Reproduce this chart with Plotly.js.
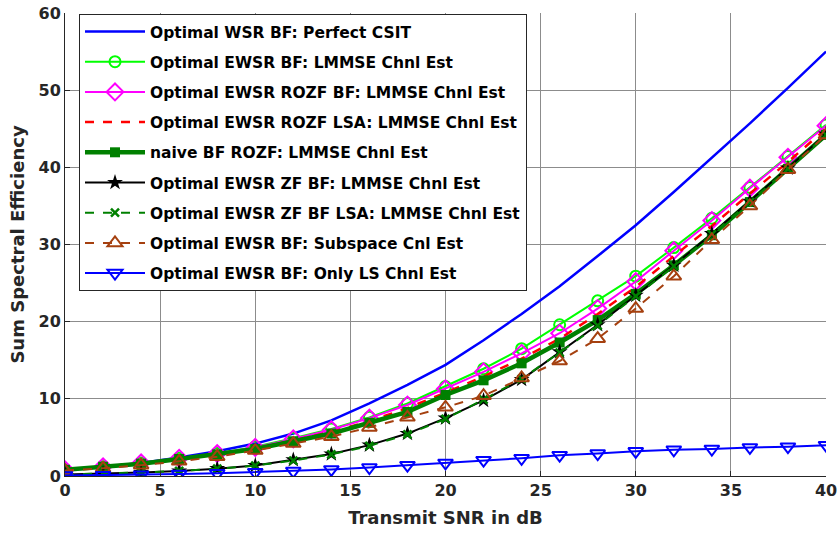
<!DOCTYPE html>
<html>
<head>
<meta charset="utf-8">
<script src="https://cdn.plot.ly/plotly-3.0.1.min.js"></script>
<style>html,body{margin:0;padding:0;background:#fff;}#chart{width:838px;height:534px;}</style>
</head>
<body>
<div id="chart"></div>
<script>
const snr = [0,2,4,6,8,10,12,14,16,18,20,22,24,26,28,30,32,34,36,38,40];
const perfectCSIT = [0.8,1.2,1.7,2.4,3.2,4.2,5.5,7.2,9.4,11.8,14.4,17.6,21.0,24.6,28.5,32.5,36.8,41.2,45.7,50.3,55.0];
const ewsrLmmse = [0.8,1.2,1.7,2.3,2.9,3.8,4.9,6.1,7.6,9.4,11.6,13.9,16.5,19.6,22.7,25.9,29.6,33.4,37.4,41.4,45.5];
const ewsrRozf = [0.8,1.2,1.7,2.3,2.9,3.7,4.8,6.0,7.5,9.2,11.3,13.5,15.9,18.5,21.7,25.2,29.2,33.1,37.3,41.3,45.4];
const ewsrRozfLsa = [0.8,1.2,1.7,2.2,2.8,3.6,4.6,5.7,7.1,8.8,10.8,12.9,15.2,17.8,21.0,24.5,28.5,32.4,36.6,40.7,45.0];
const naiveRozf = [0.8,1.2,1.6,2.2,2.8,3.5,4.5,5.5,6.9,8.3,10.5,12.4,14.6,17.3,20.2,23.6,27.3,31.2,35.5,39.8,44.2];
const ewsrZf = [0.2,0.3,0.45,0.65,0.95,1.35,2.1,2.85,4.0,5.5,7.5,9.8,12.5,16.1,19.6,23.4,27.3,31.4,35.6,39.9,44.3];
const ewsrZfLsa = [0.2,0.3,0.45,0.65,0.95,1.35,2.0,2.8,3.9,5.4,7.4,9.9,12.6,16.0,19.5,23.3,27.2,31.3,35.5,39.8,44.2];
const subspace = [0.7,1.0,1.4,1.9,2.5,3.3,4.2,5.1,6.3,7.6,8.9,10.4,12.7,14.9,17.8,21.7,25.9,30.6,35.0,39.7,44.2];
const onlyLS = [0.05,0.1,0.15,0.25,0.35,0.5,0.65,0.85,1.1,1.4,1.7,2.05,2.3,2.7,2.9,3.2,3.4,3.5,3.7,3.8,4.0];
const names = [
  'Optimal WSR BF: Perfect CSIT',
  'Optimal EWSR BF: LMMSE Chnl Est',
  'Optimal EWSR ROZF BF: LMMSE Chnl Est',
  'Optimal EWSR ROZF LSA: LMMSE Chnl Est',
  'naive BF ROZF: LMMSE Chnl Est',
  'Optimal EWSR ZF BF: LMMSE Chnl Est',
  'Optimal EWSR ZF BF LSA: LMMSE Chnl Est',
  'Optimal EWSR BF: Subspace Cnl Est',
  'Optimal EWSR BF: Only LS Chnl Est'
];

const series = [perfectCSIT, ewsrLmmse, ewsrRozf, ewsrRozfLsa, naiveRozf, ewsrZf, ewsrZfLsa, subspace, onlyLS];
const styles = [
  {mode:'lines', line:{color:'#0000ff', width:2.5}},
  {mode:'lines+markers', line:{color:'#00ff00', width:2}, marker:{symbol:'circle-open', size:11, color:'#00ff00', line:{width:2, color:'#00ff00'}}},
  {mode:'lines+markers', line:{color:'#ff00ff', width:2}, marker:{symbol:'diamond-open', size:13, color:'#ff00ff', line:{width:2, color:'#ff00ff'}}},
  {mode:'lines', line:{color:'#ff0000', width:2.5, dash:'dash'}},
  {mode:'lines+markers', line:{color:'#008000', width:4.5}, marker:{symbol:'square', size:10, color:'#008000'}},
  {mode:'lines+markers', line:{color:'#000000', width:2}, marker:{symbol:'star', size:12, color:'#000000'}},
  {mode:'lines+markers', line:{color:'#008000', width:2, dash:'dash'}, marker:{symbol:'x-thin', size:8, color:'#008000', line:{width:2.5, color:'#008000'}}},
  {mode:'lines+markers', line:{color:'#a5400f', width:2, dash:'dash'}, marker:{symbol:'triangle-up-open', size:13, color:'#a5400f', line:{width:2, color:'#a5400f'}}},
  {mode:'lines+markers', line:{color:'#0000ff', width:2}, marker:{symbol:'triangle-down-open', size:13, color:'#0000ff', line:{width:2, color:'#0000ff'}}}
];

const traces = series.map((ys, i) => Object.assign({
  type:'scatter', x:snr, y:ys, name:names[i], legendgroup:'g'+i
}, styles[i]));

const fontFam = '"DejaVu Sans", Verdana, sans-serif';
const layout = {
  width:838, height:534,
  margin:{l:65, r:12, t:13, b:58},
  paper_bgcolor:'#ffffff', plot_bgcolor:'#ffffff',
  font:{family:fontFam, color:'#262626'},
  showlegend:true,
  legend:{
    x:0.0184, y:0.998, xanchor:'left', yanchor:'top',
    bgcolor:'#ffffff', bordercolor:'#262626', borderwidth:1,
    font:{family:fontFam, size:15.5, color:'#000000', weight:'bold'},
    traceorder:'grouped', tracegroupgap:7.05, itemwidth:60
  },
  xaxis:{
    range:[0,40], dtick:5, tick0:0,
    showgrid:true, gridcolor:'#8c8c8c', gridwidth:1,
    showline:true, linecolor:'#262626', linewidth:1,
    ticks:'inside', ticklen:5, tickcolor:'#262626',
    zeroline:false,
    tickfont:{family:fontFam, size:16, color:'#262626', weight:'bold'},
    title:{text:'Transmit SNR in dB', font:{family:fontFam, size:18, color:'#262626', weight:'bold'}, standoff:12}
  },
  yaxis:{
    range:[0,60], dtick:10, tick0:0,
    showgrid:true, gridcolor:'#8c8c8c', gridwidth:1,
    showline:true, linecolor:'#262626', linewidth:1,
    ticks:'inside', ticklen:5, tickcolor:'#262626',
    zeroline:false,
    tickfont:{family:fontFam, size:16, color:'#262626', weight:'bold'},
    title:{text:'Sum Spectral Efficiency', font:{family:fontFam, size:18, color:'#262626', weight:'bold'}, standoff:9}
  }
};

Plotly.newPlot('chart', traces, layout, {displayModeBar:false, staticPlot:true});
</script>
</body>
</html>
